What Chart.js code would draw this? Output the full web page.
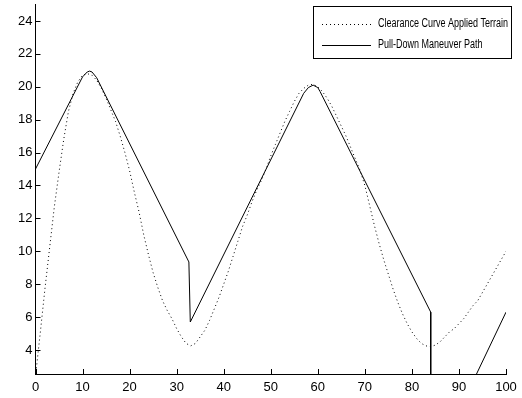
<!DOCTYPE html>
<html>
<head>
<meta charset="utf-8">
<script src="https://cdn.jsdelivr.net/npm/chart.js@4.4.1/dist/chart.umd.min.js"></script>
<style>
  html, body { margin: 0; padding: 0; background: #fff; }
  #wrap { width: 522px; height: 398px; }
</style>
</head>
<body>
<div id="wrap"><canvas id="myChart" width="522" height="398"></canvas></div>
<script>
// terrain with clearance applied (dotted)
const terrainX = [0,1,2,3,4,5,6,7,8,9,10,11,12,13,14,15,16,17,18,19,20,21,22,23,24,25,26,27,28,29,30,31,32,33,34,35,36,37,38,39,40,41,42,43,44,45,46,47,48,49,50,51,52,53,54,55,56,57,58,59,60,61,62,63,64,65,66,67,68,69,70,71,72,73,74,75,76,77,78,79,80,81,82,83,84,85,86,87,88,89,90,91,92,93,94,95,96,97,98,99,100]
const terrainY = [2.4,5.0,7.7,10.2,12.7,14.8,16.8,18.5,19.6,20.3,20.7,20.8,20.7,20.4,19.9,19.3,18.6,17.9,17.0,16.0,14.9,13.6,12.4,11.0,9.8,8.7,7.8,7.0,6.4,5.9,5.3,4.8,4.4,4.25,4.4,4.8,5.2,5.8,6.5,7.2,8.0,8.8,9.7,10.6,11.5,12.2,13.0,13.7,14.3,15.0,15.8,16.5,17.2,17.9,18.5,19.1,19.6,19.9,20.1,20.15,20.0,19.7,19.3,18.8,18.2,17.6,17.0,16.3,15.6,14.9,14.0,12.8,11.6,10.5,9.5,8.6,7.7,6.9,6.2,5.6,5.1,4.7,4.4,4.25,4.2,4.3,4.5,4.8,5.1,5.3,5.6,5.9,6.3,6.7,7.0,7.5,8.0,8.5,9.0,9.5,10.0]

// pull-down maneuver path (solid)
const pathX = [0,10,11,11.5,12,13,32.6,32.9,57,58,59,60,60.5,84,84,92,100]
const pathY = [15.0,20.6,20.9,20.95,20.9,20.55,9.35,5.7,19.6,19.95,20.1,19.95,19.7,6.3,1.0,1.5,6.3]

const xTicks = [0,10,20,30,40,50,60,70,80,90,100]
const yTicks = [4,6,8,10,12,14,16,18,20,22,24]

const labels = ['Clearance Curve Applied Terrain', 'Pull-Down Maneuver Path']

const FONT = "'Liberation Sans', Arial, sans-serif"

// tick marks drawn inward, from the axis into the plot
const inwardTicks = {
  id: 'inwardTicks',
  afterDatasetsDraw(chart) {
    const ctx = chart.ctx
    const area = chart.chartArea
    const xs = chart.scales.x
    const ys = chart.scales.y
    ctx.save()
    ctx.strokeStyle = '#000'
    ctx.lineWidth = 1
    ctx.beginPath()
    xTicks.forEach(v => {
      const px = Math.round(xs.getPixelForValue(v)) + 0.5
      ctx.moveTo(px, area.bottom)
      ctx.lineTo(px, area.bottom - 5)
    })
    yTicks.forEach(v => {
      const py = Math.round(ys.getPixelForValue(v)) + 0.5
      ctx.moveTo(area.left, py)
      ctx.lineTo(area.left + 5, py)
    })
    ctx.stroke()
    ctx.restore()
  }
}

// boxed legend in the upper right corner
const boxLegend = {
  id: 'boxLegend',
  afterDraw(chart) {
    const ctx = chart.ctx
    const box = { left: 313.5, top: 6.5, right: 511.5, bottom: 58.5 }
    const textX = 378
    const textRight = 508
    ctx.save()
    ctx.fillStyle = '#fff'
    ctx.fillRect(box.left, box.top, box.right - box.left, box.bottom - box.top)
    ctx.strokeStyle = '#000'
    ctx.lineWidth = 1
    ctx.setLineDash([])
    ctx.strokeRect(box.left, box.top, box.right - box.left, box.bottom - box.top)
    ctx.font = '12px ' + FONT
    ctx.textBaseline = 'middle'
    ctx.fillStyle = '#000'
    // squeeze both labels by the same factor so the longest fits the box
    const widest = Math.max(...chart.data.datasets.map(ds => ctx.measureText(ds.label).width))
    const squeeze = Math.min(1, (textRight - textX) / widest)
    const rows = [24, 45]
    chart.data.datasets.forEach((ds, i) => {
      const y = rows[i] + 0.5
      ctx.beginPath()
      ctx.setLineDash(ds.borderDash || [])
      ctx.strokeStyle = ds.borderColor
      ctx.lineWidth = ds.borderWidth
      ctx.moveTo(322, y)
      ctx.lineTo(371, y)
      ctx.stroke()
      const w = ctx.measureText(ds.label).width * squeeze
      ctx.fillText(ds.label, textX, rows[i], w)
    })
    ctx.restore()
  }
}

const ctx = document.getElementById('myChart').getContext('2d')
const myChart = new Chart(ctx, {
  type: 'scatter',
  data: {
    datasets: [{
      label: labels[0],
      data: terrainX.map((x, i) => ({ x: x, y: terrainY[i] })),
      showLine: true,
      borderColor: '#000',
      borderWidth: 1,
      borderDash: [1, 3],
      pointRadius: 0,
      tension: 0
    }, {
      label: labels[1],
      data: pathX.map((x, i) => ({ x: x, y: pathY[i] })),
      showLine: true,
      borderColor: '#000',
      borderWidth: 1,
      pointRadius: 0,
      tension: 0
    }]
  },
  options: {
    responsive: false,
    animation: false,
    layout: { padding: { top: 4, right: 16, left: 0, bottom: 0 } },
    plugins: {
      legend: { display: false },
      tooltip: { enabled: false }
    },
    scales: {
      x: {
        type: 'linear',
        min: 0,
        max: 100,
        afterBuildTicks: s => { s.ticks = xTicks.map(v => ({ value: v })) },
        afterFit: s => { s.height = 24; s.paddingLeft = 0; s.paddingRight = 0 },
        grid: { display: true, drawOnChartArea: false, drawTicks: false },
        border: { display: true, color: '#000', width: 1 },
        ticks: { color: '#000', padding: 6, font: { family: FONT, size: 13 }, maxRotation: 0 }
      },
      y: {
        type: 'linear',
        min: 2.54,
        max: 25.03,
        afterBuildTicks: s => { s.ticks = yTicks.map(v => ({ value: v })) },
        afterFit: s => { s.width = 35.5; s.paddingTop = 0; s.paddingBottom = 0 },
        grid: { display: true, drawOnChartArea: false, drawTicks: false },
        border: { display: true, color: '#000', width: 1 },
        ticks: { color: '#000', padding: 3, font: { family: FONT, size: 13 } }
      }
    }
  },
  plugins: [inwardTicks, boxLegend]
})
</script>
</body>
</html>
